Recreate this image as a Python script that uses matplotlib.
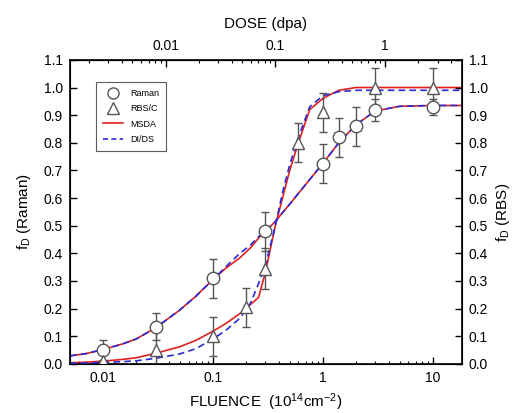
import matplotlib
matplotlib.use("Agg")
import matplotlib.pyplot as plt
from matplotlib.ticker import FixedLocator, FixedFormatter, LogLocator, NullFormatter, MultipleLocator, FormatStrFormatter
from matplotlib.lines import Line2D

plt.rcParams['font.family'] = ['Liberation Sans', 'DejaVu Sans']
plt.rcParams['mathtext.fontset'] = 'custom'
plt.rcParams['mathtext.rm'] = 'Liberation Sans'
plt.rcParams['mathtext.it'] = 'Liberation Sans'

# ---- data ----
raman_fluence = [0.01, 0.03, 0.1, 0.3, 1.0, 1.4, 2.0, 3.0, 10.0]
raman_fd = [0.05, 0.135, 0.31, 0.48, 0.725, 0.82, 0.86, 0.92, 0.93]
raman_err = [0.035, 0.05, 0.07, 0.07, 0.07, 0.07, 0.07, 0.04, 0.03]

rbs_fluence = [0.01, 0.03, 0.1, 0.2, 0.3, 0.6, 1.0, 3.0, 10.0]
rbs_fd = [0.01, 0.05, 0.10, 0.205, 0.345, 0.80, 0.91, 1.0, 1.0]
rbs_err = [0.0, 0.07, 0.07, 0.07, 0.075, 0.07, 0.07, 0.07, 0.07]

curve_fluence = [0.005, 0.007, 0.01, 0.015, 0.02, 0.03, 0.05, 0.07, 0.1, 0.13,
                 0.176, 0.22, 0.26, 0.3, 0.37, 0.43, 0.5, 0.6, 0.76, 1.0,
                 1.4, 2.0, 3.0, 5.0, 10.0, 20.0]
raman_msda = [0.029, 0.037, 0.052, 0.072, 0.090, 0.130, 0.195, 0.245, 0.305, 0.345,
              0.384, 0.42, 0.455, 0.48, 0.515, 0.547, 0.578, 0.617, 0.667, 0.725,
              0.80, 0.865, 0.915, 0.932, 0.935, 0.935]
raman_dids = [0.029, 0.037, 0.052, 0.072, 0.090, 0.130, 0.195, 0.245, 0.305, 0.350,
              0.400, 0.430, 0.460, 0.482, 0.515, 0.547, 0.578, 0.617, 0.667, 0.725,
              0.80, 0.865, 0.915, 0.932, 0.935, 0.935]
rbs_msda = [0.004, 0.006, 0.010, 0.016, 0.022, 0.038, 0.062, 0.085, 0.118, 0.145,
            0.182, 0.215, 0.24, 0.33, 0.50, 0.60, 0.70, 0.80, 0.92, 0.96,
            0.99, 1.0, 1.0, 1.0, 1.0, 1.0]
rbs_dids = [0.002, 0.003, 0.005, 0.008, 0.011, 0.020, 0.036, 0.055, 0.090, 0.120,
            0.165, 0.22, 0.29, 0.355, 0.50, 0.62, 0.72, 0.82, 0.93, 0.97,
            0.985, 0.99, 0.99, 0.99, 0.99, 0.99]

dose_per_fluence = 0.27
x_ticks = [0.01, 0.1, 1, 10]
x_ticklabels = ['0.01', '0.1', '1', '10']
dose_ticks = [0.01, 0.1, 1]
dose_ticklabels = ['0.01', '0.1', '1']

# ---- figure ----
fig = plt.figure(figsize=(5.15, 4.13), dpi=100)
ax = fig.add_axes([0.136, 0.119, 0.761, 0.736])

red = '#e02020'
blue = '#2a2ad8'
grey = '#555555'
tick_fs = 10
label_fs = 11

ax.plot(curve_fluence, raman_msda, color=red, lw=1.2, zorder=2)
ax.plot(curve_fluence, raman_dids, color=blue, lw=1.2, ls=(0, (4, 2.5)), zorder=3)
ax.plot(curve_fluence, rbs_msda, color=red, lw=1.2, zorder=2)
ax.plot(curve_fluence, rbs_dids, color=blue, lw=1.2, ls=(0, (4, 2.5)), zorder=3)

ax.errorbar(raman_fluence, raman_fd, yerr=raman_err, fmt='none', ecolor=grey,
            elinewidth=1.0, capsize=3, capthick=1.0, zorder=4)
ax.errorbar(rbs_fluence, rbs_fd, yerr=rbs_err, fmt='none', ecolor=grey,
            elinewidth=1.0, capsize=3, capthick=1.0, zorder=4)
ax.plot(raman_fluence, raman_fd, 'o', ms=9, mfc='white', mec=grey, mew=1.0, zorder=5)
ax.plot(rbs_fluence, rbs_fd, '^', ms=9, mfc='white', mec=grey, mew=1.0, zorder=5)

ax.set_xscale('log')
ax.set_xlim(0.005, 18.5)
ax.set_ylim(0, 1.1)
ax.xaxis.set_major_locator(FixedLocator(x_ticks))
ax.xaxis.set_major_formatter(FixedFormatter(x_ticklabels))
ax.xaxis.set_minor_locator(LogLocator(base=10, subs=range(2, 10), numticks=20))
ax.xaxis.set_minor_formatter(NullFormatter())
ax.yaxis.set_major_locator(MultipleLocator(0.1))
ax.yaxis.set_major_formatter(FormatStrFormatter('%.1f'))
ax.tick_params(which='major', direction='in', length=5, width=1.0, labelsize=tick_fs, pad=5)
ax.tick_params(which='minor', direction='in', length=2.5, width=0.8)
for s in ax.spines.values():
    s.set_linewidth(1.2)

ax.set_xlabel('FLUENCE  (10$^{14}$cm$^{-2}$)', fontsize=label_fs, labelpad=5)
ax.set_ylabel('f$_{\\rm D}$ (Raman)', fontsize=label_fs, labelpad=8)

# right axis
axr = ax.twinx()
axr.set_ylim(0, 1.1)
axr.yaxis.set_major_locator(MultipleLocator(0.1))
axr.yaxis.set_major_formatter(FormatStrFormatter('%.1f'))
axr.tick_params(which='major', direction='in', length=5, width=1.0, labelsize=tick_fs, pad=5)
axr.set_ylabel('f$_{\\rm D}$ (RBS)', fontsize=label_fs, labelpad=4, rotation=90)

# top axis
top = ax.secondary_xaxis('top', functions=(lambda f: f * dose_per_fluence,
                                           lambda d: d / dose_per_fluence))
top.set_xscale('log')
top.xaxis.set_major_locator(FixedLocator(dose_ticks))
top.xaxis.set_major_formatter(FixedFormatter(dose_ticklabels))
top.xaxis.set_minor_locator(LogLocator(base=10, subs=range(2, 10), numticks=20))
top.xaxis.set_minor_formatter(NullFormatter())
top.tick_params(which='major', direction='in', length=5, width=1.0, labelsize=tick_fs, pad=5)
top.tick_params(which='minor', direction='in', length=2.5, width=0.8)
top.set_xlabel('DOSE (dpa)', fontsize=label_fs, labelpad=8)

# legend
handles = [
    Line2D([], [], ls='none', marker='o', ms=8, mfc='white', mec=grey, mew=1.0),
    Line2D([], [], ls='none', marker='^', ms=8, mfc='white', mec=grey, mew=1.0),
    Line2D([], [], color=red, lw=1.2),
    Line2D([], [], color=blue, lw=1.2, ls=(0, (3, 2))),
]
leg = ax.legend(handles, ['Raman', 'RBS/C', 'MSDA', 'DI/DS'], loc='upper left',
                bbox_to_anchor=(0.066, 0.928), borderaxespad=0, fontsize=6.5,
                frameon=True, fancybox=False, edgecolor='#333333', handlelength=2.2,
                labelspacing=0.7, borderpad=0.8, handletextpad=0.8)
leg.get_frame().set_linewidth(0.8)

fig.savefig('out.png', dpi=100)
